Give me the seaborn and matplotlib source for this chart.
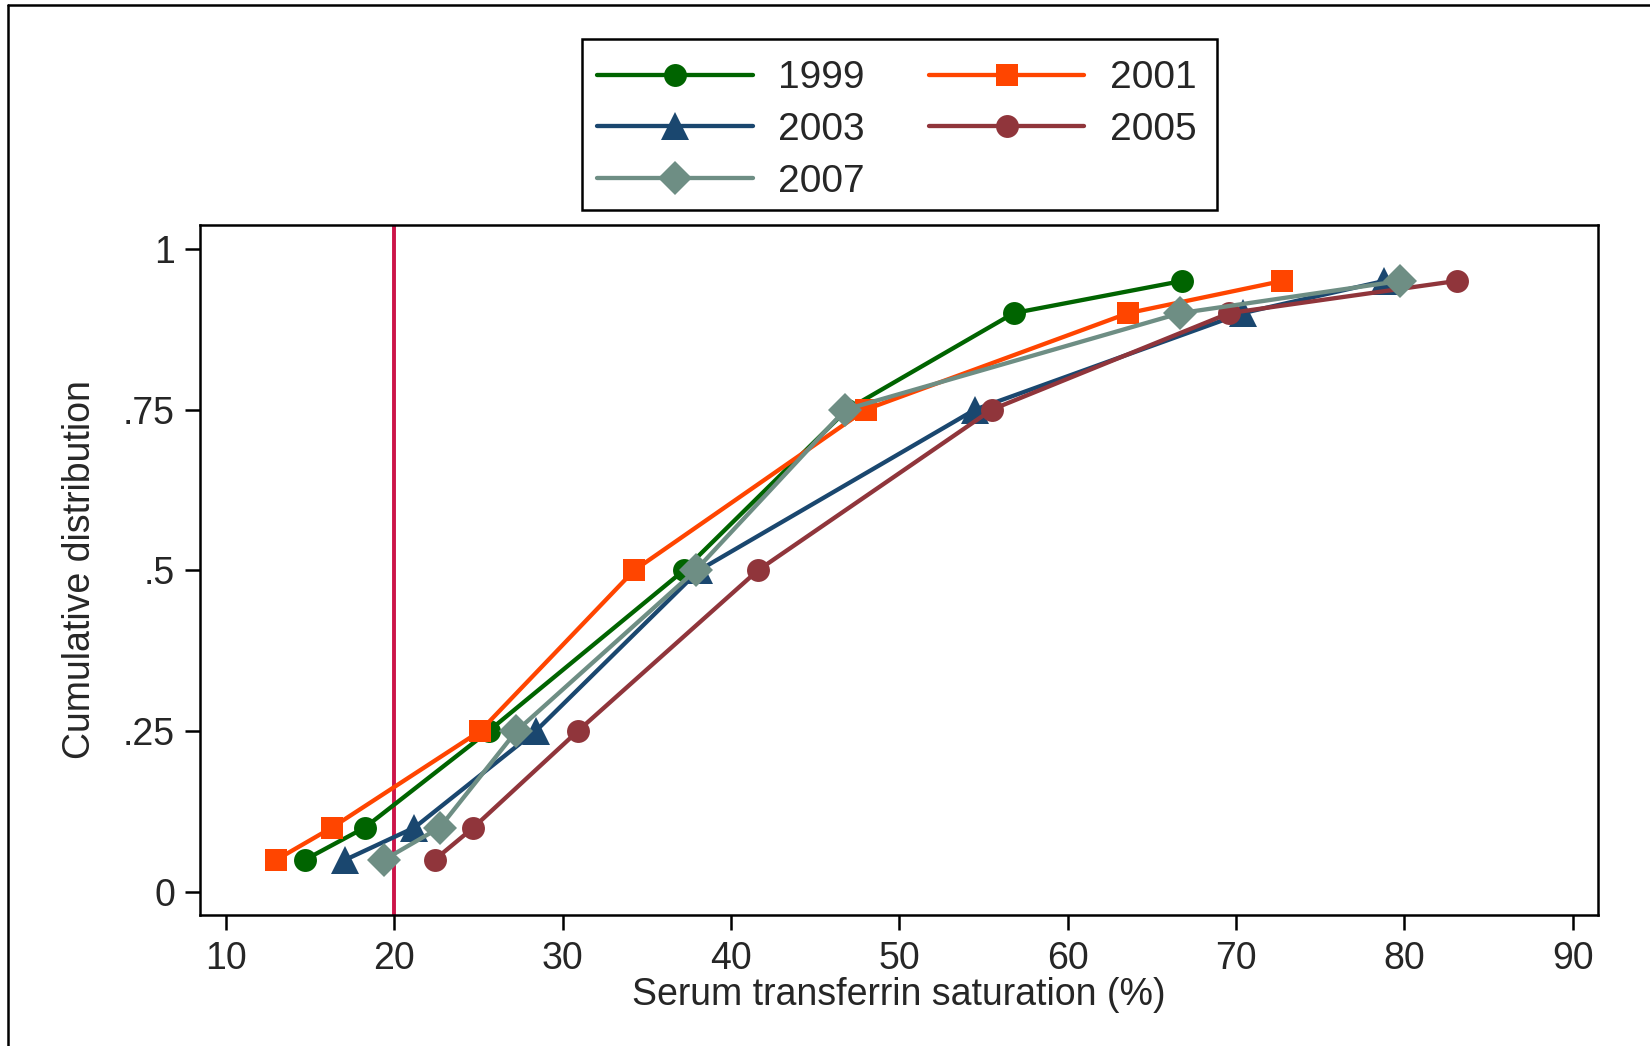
import matplotlib
matplotlib.use("Agg")
import matplotlib.pyplot as plt
from matplotlib.lines import Line2D
from matplotlib.patches import Rectangle
import seaborn as sns
import numpy as np
import pandas as pd

# cumulative levels (quantiles)
levels = [0.05, 0.10, 0.25, 0.50, 0.75, 0.90, 0.95]

# serum transferrin saturation (%) at each level, per survey year
sat_1999 = [14.7, 18.25, 25.6, 37.2, 46.9, 56.8, 66.8]
sat_2001 = [13.0, 16.3, 25.1, 34.25, 48.0, 63.6, 72.75]
sat_2003 = [17.1, 21.2, 28.4, 38.1, 54.5, 70.4, 78.8]
sat_2005 = [22.4, 24.7, 30.9, 41.6, 55.5, 69.6, 83.1]
sat_2007 = [19.4, 22.7, 27.25, 37.9, 46.8, 66.7, 79.75]

years = ["1999", "2001", "2003", "2005", "2007"]
x_ticks = [10, 20, 30, 40, 50, 60, 70, 80, 90]
y_ticks = [0, 0.25, 0.5, 0.75, 1]
y_ticklabels = ["0", ".25", ".5", ".75", "1"]
cutoff = 20

df = pd.concat([
    pd.DataFrame({"year": yr, "sat": vals, "level": levels})
    for yr, vals in zip(years, [sat_1999, sat_2001, sat_2003, sat_2005, sat_2007])
])

colors = {"1999": "#006400", "2001": "#FF4500", "2003": "#1A476F",
          "2005": "#90353B", "2007": "#6E8E84"}
markers = {"1999": "o", "2001": "s", "2003": "^", "2005": "o", "2007": "D"}
msizes = {"1999": 16.5, "2001": 16, "2003": 20, "2005": 16.5, "2007": 17}

sns.set_theme(style="ticks")
plt.rcParams["font.family"] = ["Liberation Sans", "DejaVu Sans"]

fig = plt.figure(figsize=(16.5, 10.46), dpi=100)
ax = fig.add_axes([0.1212, 0.1252, 0.8473, 0.6597])

handles = {}
for yr in years:
    sub = df[df["year"] == yr]
    sns.lineplot(data=sub, x="sat", y="level", ax=ax, sort=False, estimator=None,
                 color=colors[yr], marker=markers[yr], markersize=msizes[yr],
                 markeredgewidth=0, linewidth=3.1, legend=False)
    handles[yr] = Line2D([], [], color=colors[yr], marker=markers[yr],
                         markersize=msizes[yr], markeredgewidth=0, linewidth=3.1)

ax.axvline(cutoff, color="#CC1449", linewidth=2.8, zorder=1)

ax.set_xlim(8.46, 91.5)
ax.set_ylim(-0.036, 1.037)
ax.set_xticks(x_ticks)
ax.set_yticks(y_ticks)
ax.set_yticklabels(y_ticklabels)
ax.tick_params(axis="both", labelsize=27, width=1.8, length=11, color="black")
ax.tick_params(axis="x", pad=8)
ax.tick_params(axis="y", pad=7)
for sp in ax.spines.values():
    sp.set_visible(True)
    sp.set_linewidth(1.8)
    sp.set_color("black")

ax.set_xlabel("Serum transferrin saturation (%)", fontsize=27, labelpad=0)
ax.set_ylabel("Cumulative distribution", fontsize=27, labelpad=18)

order = ["1999", "2003", "2007", "2001", "2005"]
leg = fig.legend([handles[y] for y in order], order, ncol=2, fontsize=28,
                 loc="upper left", bbox_to_anchor=(0.349, 0.9627),
                 frameon=False,
                 handlelength=4.0, handletextpad=0.65, columnspacing=1.65,
                 labelspacing=0.40, borderpad=0.55, borderaxespad=0)

# legend frame drawn as a plain box, like the original
fig.add_artist(Rectangle((582 / 1650, 1 - 210 / 1046), 635 / 1650, 171 / 1046,
                         transform=fig.transFigure, fill=False,
                         edgecolor="black", linewidth=1.8))

# outer frame pieces visible in the crop
fig.add_artist(Line2D([8 / 1650, 8 / 1650], [0, 1 - 5 / 1046], transform=fig.transFigure,
                      color="black", linewidth=1.8))
fig.add_artist(Line2D([8 / 1650, 1], [1 - 5 / 1046, 1 - 5 / 1046], transform=fig.transFigure,
                      color="black", linewidth=1.8))

fig.savefig("out.png", dpi=100, facecolor="white")
